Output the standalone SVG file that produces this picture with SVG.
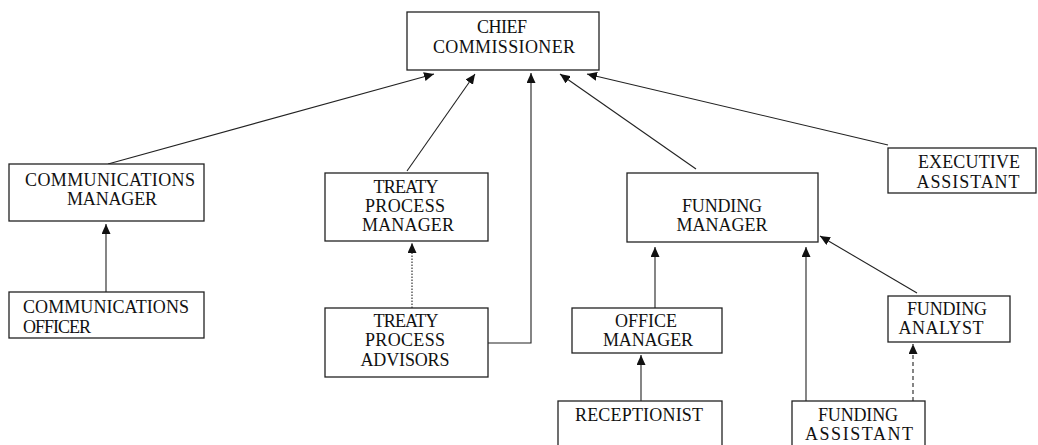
<svg xmlns="http://www.w3.org/2000/svg" width="1038" height="445" viewBox="0 0 1038 445">
<style>
rect.box{fill:#fff;stroke:#222;stroke-width:1.3}
text{font-family:"Liberation Serif","Times New Roman",serif;font-size:18px;fill:#111;text-anchor:middle}
text.l{text-anchor:start}
.c{fill:none;stroke:#222;stroke-width:1.1}
.dot{stroke-dasharray:1.5 1.5}
.dash{stroke-dasharray:4 3}
</style>
<defs>
<marker id="ah" markerWidth="10" markerHeight="9" refX="10" refY="4.5" orient="auto" markerUnits="userSpaceOnUse">
<path d="M0,0 L10,4.5 L0,9 z" fill="#111"/>
</marker>
</defs>
<rect width="1038" height="445" fill="#fff"/>
<g id="connectors">
<line class="c" x1="108" y1="164" x2="434" y2="74" marker-end="url(#ah)"/>
<line class="c" x1="407" y1="171" x2="475" y2="74" marker-end="url(#ah)"/>
<polyline class="c" points="488,343 531,343 531,73" marker-end="url(#ah)"/>
<line class="c" x1="696" y1="169" x2="560" y2="74" marker-end="url(#ah)"/>
<line class="c" x1="888" y1="145" x2="587" y2="74" marker-end="url(#ah)"/>
<line class="c" x1="106" y1="292" x2="106" y2="224" marker-end="url(#ah)"/>
<line class="c dot" x1="412" y1="308" x2="412" y2="243" marker-end="url(#ah)"/>
<line class="c" x1="655" y1="308" x2="655" y2="247" marker-end="url(#ah)"/>
<line class="c" x1="641" y1="401" x2="641" y2="355" marker-end="url(#ah)"/>
<line class="c" x1="806" y1="401" x2="806" y2="247" marker-end="url(#ah)"/>
<line class="c" x1="917" y1="293" x2="820" y2="236" marker-end="url(#ah)"/>
<line class="c dash" x1="913" y1="401" x2="913" y2="344" marker-end="url(#ah)"/>
</g>
<g id="chief">
<rect class="box" x="407" y="12" width="192" height="58"/>
<text x="502" y="33" textLength="50" lengthAdjust="spacing">CHIEF</text>
<text x="504" y="53" textLength="142" lengthAdjust="spacing">COMMISSIONER</text>
</g>
<g id="comm-manager">
<rect class="box" x="9" y="164" width="195" height="57"/>
<text x="110" y="186" textLength="170" lengthAdjust="spacing">COMMUNICATIONS</text>
<text x="112" y="205" textLength="90" lengthAdjust="spacing">MANAGER</text>
</g>
<g id="comm-officer">
<rect class="box" x="9" y="292" width="195" height="46"/>
<text class="l" x="23" y="313" textLength="166" lengthAdjust="spacing">COMMUNICATIONS</text>
<text class="l" x="23" y="333" textLength="68" lengthAdjust="spacing">OFFICER</text>
</g>
<g id="treaty-manager">
<rect class="box" x="325" y="173" width="163" height="68"/>
<text x="406" y="193" textLength="65" lengthAdjust="spacing">TREATY</text>
<text x="405" y="212" textLength="80" lengthAdjust="spacing">PROCESS</text>
<text x="408" y="231" textLength="92" lengthAdjust="spacing">MANAGER</text>
</g>
<g id="treaty-advisors">
<rect class="box" x="325" y="308" width="163" height="69"/>
<text x="406" y="327" textLength="65" lengthAdjust="spacing">TREATY</text>
<text x="405" y="346" textLength="80" lengthAdjust="spacing">PROCESS</text>
<text x="405" y="366" textLength="89" lengthAdjust="spacing">ADVISORS</text>
</g>
<g id="funding-manager">
<rect class="box" x="627" y="173" width="191" height="69"/>
<text x="722" y="212" textLength="80" lengthAdjust="spacing">FUNDING</text>
<text x="722" y="231" textLength="91" lengthAdjust="spacing">MANAGER</text>
</g>
<g id="executive-assistant">
<rect class="box" x="888" y="148" width="148" height="45"/>
<text x="969" y="168" textLength="102" lengthAdjust="spacing">EXECUTIVE</text>
<text x="968" y="188" textLength="103" lengthAdjust="spacing">ASSISTANT</text>
</g>
<g id="office-manager">
<rect class="box" x="572" y="308" width="150" height="45"/>
<text x="646" y="327" textLength="62" lengthAdjust="spacing">OFFICE</text>
<text x="648" y="346" textLength="90" lengthAdjust="spacing">MANAGER</text>
</g>
<g id="funding-analyst">
<rect class="box" x="888" y="296" width="122" height="46"/>
<text x="947" y="315" textLength="80" lengthAdjust="spacing">FUNDING</text>
<text x="941" y="334" textLength="85" lengthAdjust="spacing">ANALYST</text>
</g>
<g id="receptionist">
<rect class="box" x="558" y="401" width="164" height="60"/>
<text x="639" y="421" textLength="128" lengthAdjust="spacing">RECEPTIONIST</text>
</g>
<g id="funding-assistant">
<rect class="box" x="792" y="401" width="133" height="60"/>
<text x="858" y="421" textLength="80" lengthAdjust="spacing">FUNDING</text>
<text x="859" y="440" textLength="108" lengthAdjust="spacing">ASSISTANT</text>
</g>
</svg>
